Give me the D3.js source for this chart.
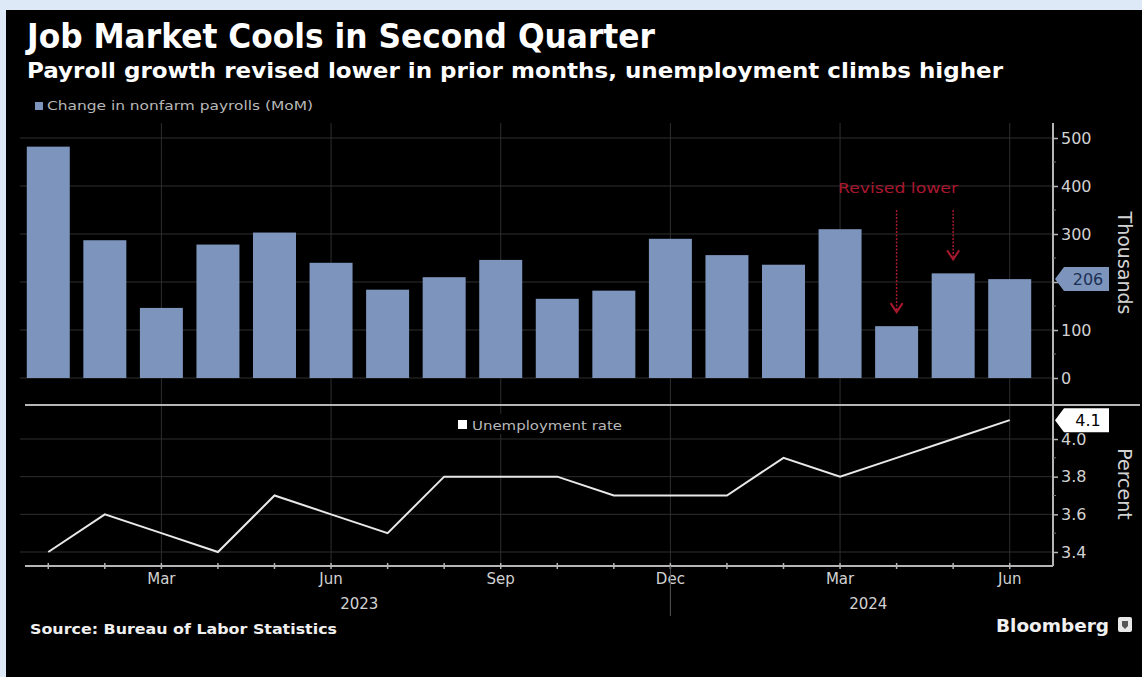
<!DOCTYPE html>
<html><head><meta charset="utf-8">
<script src="https://cdn.jsdelivr.net/npm/d3@7"></script>
<style>body{margin:0;background:#dde9f6;} svg{display:block}</style>
</head><body><svg id="c" width="1142" height="677"></svg>
<script>
// ---------- data ----------
const months = ["2023-01","2023-02","2023-03","2023-04","2023-05","2023-06","2023-07","2023-08","2023-09","2023-10","2023-11","2023-12",
                "2024-01","2024-02","2024-03","2024-04","2024-05","2024-06"];
const payrolls = [482, 287, 146, 278, 303, 240, 184, 210, 246, 165, 182, 290, 256, 236, 310, 108, 218, 206];
const unemployment = [3.4, 3.6, 3.5, 3.4, 3.7, 3.6, 3.5, 3.8, 3.8, 3.8, 3.7, 3.7, 3.7, 3.9, 3.8, 3.9, 4.0, 4.1];
const payrollTicks = [0, 100, 200, 300, 400, 500];
const rateTicks = [3.4, 3.6, 3.8, 4.0];
const quarterTicks = ["2023-03","2023-06","2023-09","2023-12","2024-03","2024-06"];
const years = ["2023", "2024"];
const revisedMonths = ["2024-04", "2024-05"];
const titleText = "Job Market Cools in Second Quarter";
const subtitleText = "Payroll growth revised lower in prior months, unemployment climbs higher";
const legendBars = "Change in nonfarm payrolls (MoM)";
const legendLine = "Unemployment rate";
const annotationText = "Revised lower";
const sourceText = "Source: Bureau of Labor Statistics";

// ---------- setup ----------
const svg = d3.select("#c");
const W = 1142, H = 677;
const FONT = "'DejaVu Sans', 'Noto Sans', sans-serif";
const axisColor = "#b5b5b5", gridColor = "#2e2e2e", textColor = "#d2d2d2";
const barColor = "#7d95bd";

svg.append("rect").attr("width", W).attr("height", H).attr("fill", "#dde9f6");
svg.append("rect").attr("x", 6).attr("y", 10).attr("width", W - 6).attr("height", H - 10).attr("fill", "#000");

// titles
svg.append("text").attr("x", 27).attr("y", 48).text(titleText)
  .attr("fill", "#fff").attr("font-family", FONT).attr("font-weight", "bold").attr("font-size", 33)
  .attr("textLength", 628).attr("lengthAdjust", "spacingAndGlyphs");
svg.append("text").attr("x", 27).attr("y", 78).text(subtitleText)
  .attr("fill", "#fff").attr("font-family", FONT).attr("font-weight", "bold").attr("font-size", 22)
  .attr("textLength", 976).attr("lengthAdjust", "spacingAndGlyphs");

// scales
const x = d3.scaleBand().domain(months).range([20, 1038]).paddingInner(0.24).paddingOuter(0.12);
const cx = m => x(m) + x.bandwidth() / 2;
const yTop = d3.scaleLinear().domain([0, 500]).range([378, 138]);
const yBot = d3.scaleLinear().domain([3.4, 4.0]).range([552, 439]);
const axisX = 1053;

// ---------- gridlines ----------
const grid = svg.append("g");
grid.selectAll(".hg1").data(payrollTicks).join("line")
  .attr("x1", 20).attr("x2", axisX).attr("y1", d => yTop(d)).attr("y2", d => yTop(d))
  .attr("stroke", gridColor).attr("stroke-width", 1);
grid.selectAll(".hg2").data(rateTicks).join("line")
  .attr("x1", 20).attr("x2", axisX).attr("y1", d => yBot(d)).attr("y2", d => yBot(d))
  .attr("stroke", gridColor).attr("stroke-width", 1);
grid.selectAll(".vg").data(quarterTicks).join("line")
  .attr("x1", d => cx(d)).attr("x2", d => cx(d)).attr("y1", 123).attr("y2", 566)
  .attr("stroke", gridColor).attr("stroke-width", 1);

// ---------- bars ----------
svg.append("g").selectAll("rect").data(months).join("rect")
  .attr("x", d => x(d)).attr("width", x.bandwidth())
  .attr("y", (d, i) => yTop(payrolls[i])).attr("height", (d, i) => yTop(0) - yTop(payrolls[i]))
  .attr("fill", barColor);

// legend bars
svg.append("rect").attr("x", 35).attr("y", 102).attr("width", 8).attr("height", 8).attr("fill", barColor);
svg.append("text").attr("x", 47).attr("y", 110).text(legendBars)
  .attr("fill", "#b8b8b8").attr("font-family", FONT).attr("font-size", 12)
  .attr("textLength", 266).attr("lengthAdjust", "spacingAndGlyphs");

// ---------- annotation ----------
const red = "#a8182e";
svg.append("text").attr("x", 898).attr("y", 193).attr("text-anchor", "middle").text(annotationText)
  .attr("fill", red).attr("font-family", FONT).attr("font-size", 14)
  .attr("textLength", 120).attr("lengthAdjust", "spacingAndGlyphs");
const ann = svg.append("g");
revisedMonths.forEach(m => {
  const i = months.indexOf(m);
  const xx = cx(m);
  const yEnd = yTop(payrolls[i]) - 14;
  ann.append("line").attr("x1", xx).attr("x2", xx).attr("y1", 210).attr("y2", yEnd - 2)
    .attr("stroke", red).attr("stroke-width", 1.5).attr("stroke-dasharray", "2,1.5");
  ann.append("path").attr("d", `M${xx - 6},${yEnd - 9} L${xx},${yEnd} L${xx + 6},${yEnd - 9}`)
    .attr("fill", "none").attr("stroke", red).attr("stroke-width", 2);
});

// ---------- separator & axes ----------
svg.append("line").attr("x1", 25).attr("x2", 1140).attr("y1", 405).attr("y2", 405)
  .attr("stroke", axisColor).attr("stroke-width", 2);
svg.append("line").attr("x1", axisX).attr("x2", axisX).attr("y1", 123).attr("y2", 566)
  .attr("stroke", axisColor).attr("stroke-width", 2);
svg.append("line").attr("x1", 25).attr("x2", axisX).attr("y1", 566).attr("y2", 566)
  .attr("stroke", axisColor).attr("stroke-width", 2);

function styleAxis(g) {
  g.select(".domain").remove();
  g.selectAll(".tick line").attr("stroke", axisColor).attr("stroke-width", 1.5);
  g.selectAll(".tick text").attr("fill", textColor).attr("font-family", FONT).attr("font-size", 16);
}
const lastPay = payrolls[payrolls.length - 1];
const lastRate = unemployment[unemployment.length - 1];
// top right axis (the label hidden by the latest-value tag is left out, as in the reference)
const topAxis = svg.append("g").attr("transform", `translate(${axisX},0)`)
  .call(d3.axisRight(yTop).tickValues(payrollTicks).tickSize(5).tickPadding(3)
    .tickFormat(d => Math.abs(d - lastPay) < 40 ? "" : d3.format("d")(d)));
styleAxis(topAxis);
// minor ticks
svg.append("g").selectAll("line").data(d3.range(50, 500, 100)).join("line")
  .attr("x1", axisX).attr("x2", axisX + 3).attr("y1", d => yTop(d)).attr("y2", d => yTop(d))
  .attr("stroke", "#777");
// bottom right axis
const botAxis = svg.append("g").attr("transform", `translate(${axisX},0)`)
  .call(d3.axisRight(yBot).tickValues(rateTicks).tickSize(5).tickPadding(3).tickFormat(d3.format(".1f")));
styleAxis(botAxis);
svg.append("g").selectAll("line").data([3.5, 3.7, 3.9]).join("line")
  .attr("x1", axisX).attr("x2", axisX + 3).attr("y1", d => yBot(d)).attr("y2", d => yBot(d))
  .attr("stroke", "#777");

// axis titles
svg.append("text").attr("transform", `translate(1118,263) rotate(90)`).attr("text-anchor", "middle")
  .text("Thousands").attr("fill", textColor).attr("font-family", FONT).attr("font-size", 19);
svg.append("text").attr("transform", `translate(1118,484) rotate(90)`).attr("text-anchor", "middle")
  .text("Percent").attr("fill", textColor).attr("font-family", FONT).attr("font-size", 19);

// x axis
const xAxisG = svg.append("g").attr("transform", "translate(0,566)");
xAxisG.selectAll("line").data(months).join("line")
  .attr("x1", d => cx(d)).attr("x2", d => cx(d)).attr("y1", -3).attr("y2", 3)
  .attr("stroke", axisColor).attr("stroke-width", 1.5);
const fmt = d3.timeFormat("%b"), parse = d3.timeParse("%Y-%m");
xAxisG.selectAll("text").data(quarterTicks).join("text")
  .attr("x", d => cx(d)).attr("y", 18).attr("text-anchor", "middle").text(d => fmt(parse(d)))
  .attr("fill", textColor).attr("font-family", FONT).attr("font-size", 15);
// year divider
xAxisG.append("line").attr("x1", cx("2023-12")).attr("x2", cx("2023-12")).attr("y1", 0).attr("y2", 50)
  .attr("stroke", "#555").attr("stroke-width", 1);
years.forEach(yr => {
  const ms = months.filter(m => m.startsWith(yr));
  const mid = d3.mean(ms, cx);
  xAxisG.append("text").attr("x", mid).attr("y", 43).attr("text-anchor", "middle").text(yr)
    .attr("fill", textColor).attr("font-family", FONT).attr("font-size", 15);
});

// ---------- line ----------
const line = d3.line().x((d, i) => cx(months[i])).y(d => yBot(d));
svg.append("path").datum(unemployment).attr("d", line)
  .attr("fill", "none").attr("stroke", "#e8e8e8").attr("stroke-width", 2).attr("stroke-linejoin", "miter");

// legend line
svg.append("rect").attr("x", 447).attr("y", 414).attr("width", 183).attr("height", 20).attr("fill", "#000");
svg.append("rect").attr("x", 458).attr("y", 420).attr("width", 9).attr("height", 9).attr("fill", "#fff");
svg.append("text").attr("x", 472).attr("y", 430).text(legendLine)
  .attr("fill", "#b8b8b8").attr("font-family", FONT).attr("font-size", 13)
  .attr("textLength", 150).attr("lengthAdjust", "spacingAndGlyphs");

// ---------- value labels ----------
function valueTag(yv, text, fill, textFill) {
  const tx = 1055;
  const g = svg.append("g");
  g.append("path").attr("d", `M${tx},${yv} L${tx + 9},${yv - 12} L${tx + 54},${yv - 12} L${tx + 54},${yv + 12} L${tx + 9},${yv + 12} Z`)
    .attr("fill", fill);
  g.append("text").attr("x", tx + 33).attr("y", yv + 6).attr("text-anchor", "middle").text(text)
    .attr("fill", textFill).attr("font-family", FONT).attr("font-size", 16);
}
valueTag(yTop(lastPay), String(lastPay), barColor, "#1c2f52");
valueTag(yBot(lastRate), d3.format(".1f")(lastRate), "#fff", "#000");

// ---------- footer ----------
svg.append("text").attr("x", 30).attr("y", 634).text(sourceText)
  .attr("fill", "#f0f0f0").attr("font-family", FONT).attr("font-weight", "bold").attr("font-size", 14)
  .attr("textLength", 307).attr("lengthAdjust", "spacingAndGlyphs");
svg.append("text").attr("x", 996).attr("y", 632).text("Bloomberg")
  .attr("fill", "#f0f0f0").attr("font-family", FONT).attr("font-weight", "bold").attr("font-size", 18)
  .attr("textLength", 113).attr("lengthAdjust", "spacingAndGlyphs");
const lg = svg.append("g").attr("transform", "translate(1118,617)");
lg.append("rect").attr("width", 14).attr("height", 15).attr("rx", 2).attr("fill", "#e8e8e8");
lg.append("path").attr("d", "M4,4 L10,4 L10,9 L7,12 L4,9 Z").attr("fill", "#555");
</script></body></html>
